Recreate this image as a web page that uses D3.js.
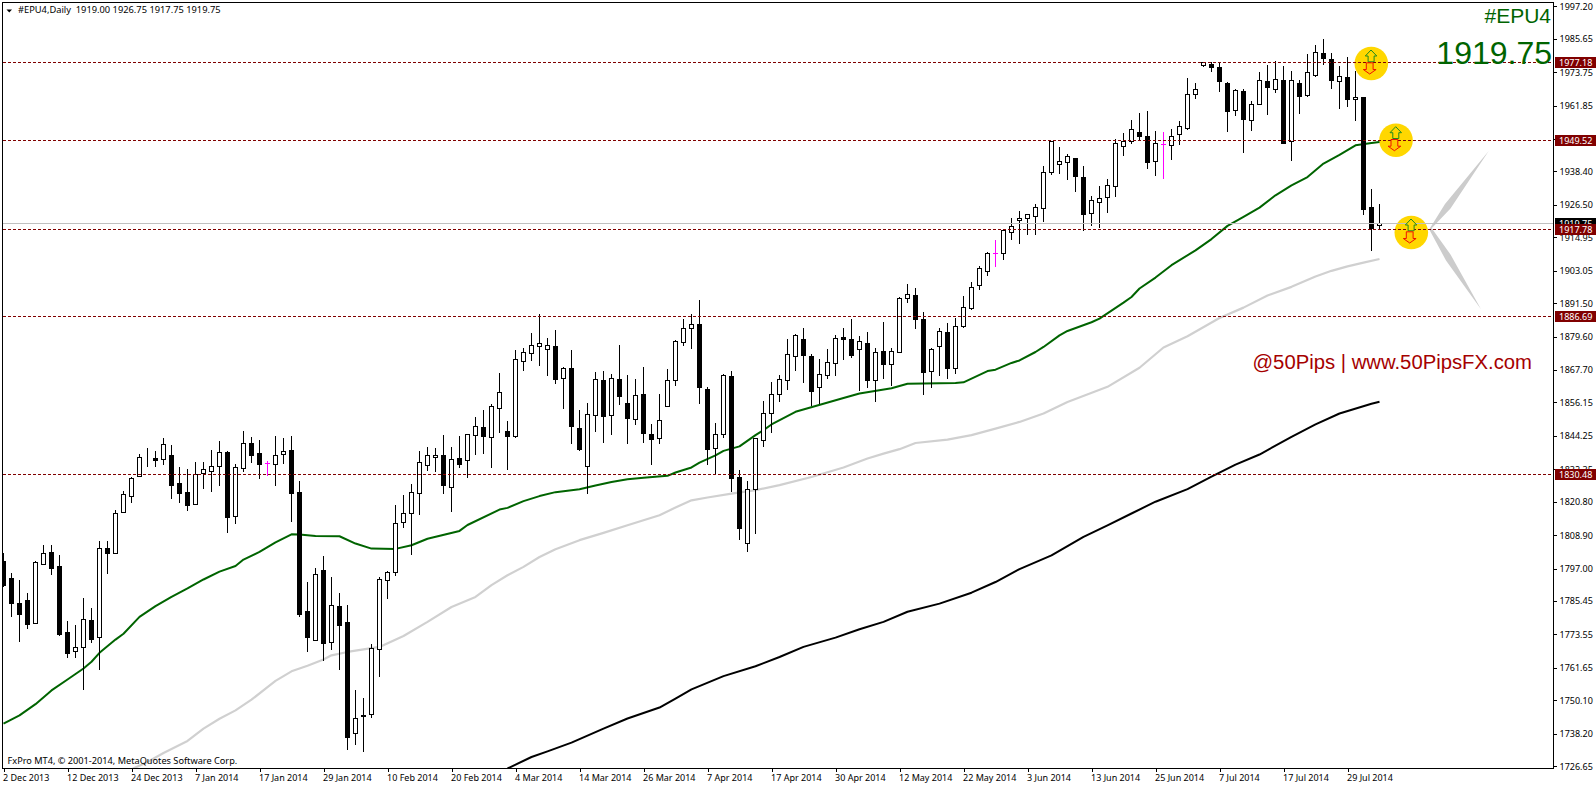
<!DOCTYPE html>
<html><head><meta charset="utf-8">
<script src="https://cdn.jsdelivr.net/npm/d3@7"></script>
<style>html,body{margin:0;padding:0;background:#fff;overflow:hidden}svg{display:block}text{font-family:"Noto Sans",sans-serif}</style>
</head><body><div id="chart"></div>
<script>
const opens=[1799.5,1793.4,1784.5,1785.6,1777.6,1798.4,1802.7,1797.7,1774.2,1767.3,
1768.8,1778.6,1772.3,1804.1,1802.5,1816.9,1822.6,1829.7,1836.4,1836.1,
1835.8,1837.2,1827.2,1824,1819.8,1830.7,1831.5,1833.3,1838.3,1815.5,
1832.6,1841.5,1837.9,1834.4,1834,1837.6,1839,1824,1781.7,1771.3,
1796.3,1770.6,1783.4,1777.8,1738.2,1744.6,1745,1768.1,1792.7,1795.5,
1813.4,1816.6,1823.7,1833.7,1836.6,1837.3,1825.9,1836.2,1835.5,1844.4,
1847.2,1843.7,1854,1845.8,1844,1870.7,1873.6,1876.1,1875,1876.1,
1864.7,1868.2,1846.9,1833.3,1851.5,1864,1851.5,1864.3,1855.8,1850.1,
1859,1844.7,1843.3,1854.7,1864,1877.5,1882.5,1883.9,1860.8,1839.7,
1844.7,1865.4,1829.4,1805.9,1825.2,1842.6,1852.2,1859,1864,1872.5,
1878.5,1872.4,1861.4,1865.7,1869.9,1879.2,1878.5,1874.9,1877.1,1863.9,
1874.2,1869.6,1873.9,1893.1,1894.2,1885.6,1867.1,1876,1881,1868.2,
1883.1,1889.5,1897.7,1902.7,1909.1,1909.1,1916.6,1920.9,1921.6,1922.3,
1925.1,1938,1940.8,1941.5,1943,1936.2,1923.4,1927.3,1929.1,1933,
1947.2,1949,1952.2,1950.8,1941.9,1947.9,1947.6,1951.5,1953.7,1965.8,
1976.1,1976.4,1975.4,1969.7,1960,1966.8,1956.5,1962.2,1970.4,1967.5,
1970.8,1949,1969.7,1965.4,1972.5,1980.4,1978.2,1970.4,1971.8,1964,
1964.7,1925.5,1919];
const highs=[1802.3,1795.2,1792.8,1788.1,1799.5,1805.3,1805.3,1801.7,1778.2,1776.8,
1786.4,1782.7,1806.7,1806.7,1817.7,1824.4,1829.4,1837.6,1839.7,1838.5,
1843.3,1840.8,1832.9,1832.2,1834.7,1834.7,1839,1842.2,1838.6,1834,
1845.9,1843.6,1842.5,1835.1,1844,1843.4,1844,1827.9,1792,1797,
1801.3,1793.8,1788.1,1783.8,1753.5,1750.7,1769.9,1793.8,1795.9,1819.4,
1823.1,1827.1,1838.7,1840.1,1839.7,1844.4,1840.1,1844,1844.7,1850.8,
1853.3,1855.4,1866.4,1849.4,1874.7,1875.4,1880.7,1887.5,1878.9,1881.8,
1868.6,1874.7,1853.1,1855.8,1866.8,1867.2,1866.1,1876.4,1865.8,1864.3,
1868.6,1848.3,1859,1867.9,1878.2,1885.7,1887.5,1892.5,1861.5,1848.7,
1866.1,1867.2,1831.9,1828,1843.3,1856.5,1863.3,1865.7,1878.6,1880.4,
1882.4,1873.2,1871.4,1874.9,1879.9,1882.4,1885.6,1879.6,1881,1875.3,
1884.5,1875.3,1893.5,1898.1,1896.7,1888.1,1875.3,1882.4,1884.2,1886,
1893.8,1898.8,1904.5,1909.5,1913.7,1917.7,1921.6,1924.1,1923,1926.6,
1940.1,1949.2,1946.9,1944.4,1943,1940.1,1929.4,1933,1935.5,1949.7,
1951.9,1956.6,1959,1959.8,1952.6,1952.2,1953.3,1956.1,1971.4,1969.7,
1977.2,1977,1976.8,1970,1967.5,1967.5,1963.3,1973.6,1976.1,1977.5,
1975.9,1974,1970.8,1980,1983.2,1985.3,1980.4,1975.7,1978.9,1974,
1964.7,1931.9,1926.75];
const lows=[1790.5,1779.8,1771.2,1775.5,1777.4,1798.4,1794.9,1773.2,1765.5,1765.5,
1754.1,1770.5,1761.2,1795.1,1802.2,1816.9,1820.4,1829.7,1833.2,1833.5,
1834.2,1821.8,1820.4,1817.5,1819.8,1825.5,1824.3,1826.4,1809.7,1812.9,
1831.5,1834.7,1829.2,1830.1,1826.4,1834.5,1813.9,1780.1,1767.3,1771.3,
1764.2,1768,1761.2,1732.4,1734.2,1732,1744.1,1758.4,1786.2,1794.5,
1811.5,1802.1,1816.1,1831.8,1831.4,1823.7,1817.2,1833,1829.4,1837.5,
1837.9,1833,1845.3,1832.2,1843.7,1867.4,1871,1869.3,1865.8,1862.8,
1853.9,1841.4,1838.9,1823.7,1845.7,1841.8,1844.6,1855.3,1841.4,1848.2,
1841.8,1833.9,1841.5,1854.7,1862.1,1876.4,1875.4,1855.7,1834.2,1830.5,
1843.7,1824.4,1807.2,1803.1,1809.5,1840.5,1845.4,1856.4,1860.8,1867.4,
1863.4,1855.1,1855.7,1864.5,1865.9,1871.4,1872,1860.5,1861.3,1856.3,
1864.5,1862.1,1873.9,1891.7,1882.3,1858.8,1861.3,1865.6,1864.5,1866.4,
1882.8,1889.2,1896.5,1901.5,1904.4,1906.9,1914.1,1912.9,1915.8,1915.8,
1920.4,1937.3,1937.7,1935.4,1931.1,1917.3,1919,1918.6,1923.6,1929.3,
1943.9,1948.3,1949.5,1939.3,1936.8,1935.7,1942.6,1947.9,1953.3,1964.3,
1975.7,1974,1966.7,1952.5,1958.2,1945.1,1952.8,1962.2,1958.5,1966.5,
1948.3,1942.2,1958.9,1964.9,1972.2,1976.4,1967.8,1960.7,1961.4,1956.5,
1922.9,1910.2,1917.75];
const closes=[1791.1,1784.4,1780.8,1776.9,1799.1,1802.3,1796.9,1773.6,1766.9,1768.8,
1778.8,1771.6,1804.1,1802.2,1816.5,1823.3,1829,1836.5,1836.5,1835.3,
1841.1,1826.4,1823.7,1819.6,1830.4,1832.2,1833.3,1838.3,1815,1832.9,
1841.5,1837.1,1834,1834.4,1837.2,1838.6,1823.6,1780.5,1772.3,1794.9,
1770.2,1783.8,1776.6,1736.7,1743.6,1744.3,1768.5,1793,1795.5,1813,
1816.6,1824.1,1834.8,1837.3,1837.3,1826.6,1835.8,1833.9,1844.7,1847.6,
1843.9,1854.7,1859.7,1843.9,1871.4,1873.9,1876.4,1877.1,1876.4,1864.2,
1868.2,1847.5,1839.3,1851.9,1864.3,1851.2,1864.7,1858.2,1850.3,1858.6,
1845,1843,1849.7,1864,1877.9,1882.5,1883.9,1861.5,1839.4,1844.7,
1865.8,1829.1,1811.3,1825.2,1843.3,1852.2,1859,1864.3,1873.2,1880,
1873,1860,1866,1870.3,1878.9,1878.7,1873,1877.8,1863.9,1873.9,
1869.8,1874.2,1893.1,1894.5,1885.6,1866.7,1874.9,1881.3,1868.2,1883.1,
1889.9,1897,1903.8,1909.1,1909.1,1917.3,1918.7,1921.6,1923,1925.5,
1938,1949,1941.9,1943.7,1936.5,1922.9,1928,1928.7,1933.3,1948.3,
1949,1953.3,1951,1941.5,1948.3,1947.9,1950.8,1954.4,1965.8,1967.5,
1977.2,1975.4,1970.4,1959.7,1967.2,1956.9,1962.2,1970.8,1968.1,1971.1,
1948.3,1970.8,1964.9,1973.6,1980.7,1978.7,1970.8,1972.2,1964,1964.7,
1924.8,1917.9,1919.75];
const magentaBars=[33,124,145];

const greenIdx=[0,2,4,6,8,10,11,12,14,15,17,19,21,23,25,27,29,30,32,34,36,37,39,42,44,46,49,51,53,57,58,62,63,65,67,69,72,74,76,78,80,83,84,86,87,89,90,92,94,95,96,99,105,107,111,113,119,120,123,124,126,127,129,130,132,133,136,137,140,141,142,144,146,149,151,153,155,157,159,161,163,165,167,169,171,172];
const greenMA=[1741.8,1744.7,1748.7,1753.6,1757.5,1761.4,1763.8,1767,1771.7,1773.8,1779.8,1783.6,1786.9,1789.9,1793.1,1795.9,1797.9,1800.2,1802.9,1806.3,1809.2,1809.1,1808.6,1808.5,1805.9,1804.1,1804,1805.3,1807.6,1810.4,1812.5,1818,1818.6,1821,1822.8,1824.2,1825.2,1826.6,1827.8,1828.8,1829.3,1830,1831.2,1833,1834.7,1837.3,1838.9,1840.5,1844.5,1846.3,1848.3,1852.8,1857.7,1859.3,1861.2,1862.8,1863.1,1863.3,1867.3,1867.8,1870.2,1871.1,1874.1,1875.9,1880,1881.6,1884.7,1886,1891.7,1893.7,1896.7,1900.6,1905,1910.3,1914.3,1919,1922.2,1925.5,1929.9,1933.4,1936.4,1941.2,1944.3,1947.7,1948.5,1948.9];
const grayIdx=[16,18,20,23,25,27,29,31,33,34,36,38,40,41,43,45,47,50,53,56,59,61,63,65,67,69,72,75,78,82,84,86,88,91,94,97,101,105,108,110,112,114,118,121,124,127,130,133,138,142,145,148,152,155,158,161,164,166,168,170,172];
const grayMA=[1725.5,1728.1,1731.3,1735.6,1740,1743.5,1746.5,1750.3,1754.8,1757,1760.4,1762.4,1764.6,1766.1,1767.3,1768.2,1769.1,1773,1778,1783.3,1786.9,1791.1,1794.6,1797.6,1801.1,1803.9,1807.1,1809.7,1812.4,1816,1818.7,1821.3,1822.3,1823.7,1824.9,1826.7,1829.6,1833,1836.2,1837.9,1839.5,1841.7,1842.9,1844.5,1846.8,1849.2,1852.2,1856.3,1861.7,1868.5,1875.7,1879.7,1886.2,1889.9,1894.2,1897.3,1901,1903,1904.6,1905.9,1907.2];
const blackIdx=[63,66,68,71,75,78,82,84,86,90,94,97,100,104,107,110,113,117,121,124,127,131,135,138,141,144,148,151,154,157,161,164,167,171,172];
const blackMA=[1725.8,1729.9,1731.9,1735,1740,1743.6,1747.5,1750.7,1754,1758.7,1762.2,1765.5,1769.1,1772.4,1775.4,1778,1781.6,1784.5,1788.4,1792.2,1796.8,1801.7,1808.3,1812.4,1816.6,1820.8,1825.3,1829.7,1834,1837.6,1843.9,1848.3,1852.2,1855.7,1856.4];

const priceTicks=[1997.20,1985.65,1973.75,1961.85,1949.95,1938.40,1926.50,1914.95,1903.05,1891.50,1879.60,1867.70,1856.15,1844.25,1832.35,1820.80,1808.90,1797.00,1785.45,1773.55,1761.65,1750.10,1738.20,1726.65];
const dateLabels=["2 Dec 2013","12 Dec 2013","24 Dec 2013","7 Jan 2014","17 Jan 2014","29 Jan 2014","10 Feb 2014","20 Feb 2014","4 Mar 2014","14 Mar 2014","26 Mar 2014","7 Apr 2014","17 Apr 2014","30 Apr 2014","12 May 2014","22 May 2014","3 Jun 2014","13 Jun 2014","25 Jun 2014","7 Jul 2014","17 Jul 2014","29 Jul 2014"];
const dateBarStep=8;
const levels=[1977.18,1949.52,1917.78,1886.69,1830.48];
const lastPrice=1919.75;

const W=1596,H=786,L=2.5,T=2.5,R=1553.5,B=768.5;
const svg=d3.select("#chart").append("svg").attr("width",W).attr("height",H);
const x=d3.scaleLinear().domain([0,172]).range([3.5,1379.5]);
const y=d3.scaleLinear().domain([1999.36,1725.91]).range([0.2,768.2]);
const py=v=>Math.floor(y(v))+0.5;

svg.append("defs").append("clipPath").attr("id","plot").append("rect").attr("x",L).attr("y",T).attr("width",R-L).attr("height",B-T);
const plot=svg.append("g").attr("clip-path","url(#plot)");

/* decorative spindle */
plot.append("path").attr("fill","#cccccc")
 .attr("d","M1429.3,229.3 L1445,204 L1488.7,151 L1450.5,208.5 L1431.7,228.3 Z M1429.3,229.5 L1446,260.5 L1481,309.3 L1450.5,254.5 L1431.7,228.3 Z");

/* signal discs behind level lines */
const discs=[[1371.3,63.5],[1396,140.2],[1411.3,232.5]];
plot.selectAll("circle.sig").data(discs).join("circle").attr("class","sig")
 .attr("cx",d=>d[0]).attr("cy",d=>d[1]).attr("r",16.8).attr("fill","#ffd700");

/* moving averages */
const maLine=d3.line().x(d=>x(d[0])).y(d=>y(d[1]));
[[grayIdx,grayMA,"#d0d0d0",2.2],[blackIdx,blackMA,"#000000",2],[greenIdx,greenMA,"#006400",2]].forEach(([ix,vals,c,w])=>{
 plot.append("path").attr("fill","none").attr("stroke",c).attr("stroke-width",w).attr("stroke-linejoin","round")
  .attr("d",maLine(ix.map((k,j)=>[k,vals[j]])));
});

/* candles */
const bars=opens.map((o,i)=>({i,o,h:highs[i],l:lows[i],c:closes[i],m:magentaBars.includes(i)}));
const g=plot.append("g").attr("shape-rendering","crispEdges");
g.selectAll("line.w").data(bars).join("line").attr("class","w")
 .attr("x1",d=>x(d.i)).attr("x2",d=>x(d.i)).attr("y1",d=>py(d.h)-0.5).attr("y2",d=>py(d.l)+0.5)
 .attr("stroke",d=>d.m?"#ff00ff":"#000");
g.selectAll("rect.b").data(bars.filter(d=>!d.m)).join("rect").attr("class","b")
 .attr("x",d=>x(d.i)-2).attr("width",4)
 .attr("y",d=>py(Math.max(d.o,d.c))).attr("height",d=>Math.max(0,py(Math.min(d.o,d.c))-py(Math.max(d.o,d.c))))
 .attr("fill",d=>d.c>=d.o?"#fff":"#000").attr("stroke","#000");
g.selectAll("line.m").data(bars.filter(d=>d.m)).join("line").attr("class","m")
 .attr("x1",d=>x(d.i)-2.5).attr("x2",d=>x(d.i)+2.5).attr("y1",d=>py(d.c)).attr("y2",d=>py(d.c)).attr("stroke","#ff00ff");

/* level lines */
const lv=plot.append("g").attr("shape-rendering","crispEdges");
lv.append("line").attr("x1",L).attr("x2",R).attr("y1",py(lastPrice)).attr("y2",py(lastPrice)).attr("stroke","#c0c0c0");
lv.selectAll("line.lvl").data(levels).join("line").attr("class","lvl")
 .attr("x1",L).attr("x2",R).attr("y1",d=>py(d)).attr("y2",d=>py(d)).attr("stroke","#800000").attr("stroke-dasharray","3,2");

/* signal arrows */
discs.forEach(([cx,cy])=>{
 const a=plot.append("g").attr("transform",`translate(${cx},${cy})`);
 a.append("path").attr("d","M-0.3,-13.5 L5.5,-7.5 L2.8,-7.5 L2.8,-1.7 L-3.2,-1.7 L-3.2,-7.5 L-6,-7.5 Z").attr("fill","#ffd700").attr("stroke","#1f8a1f").attr("stroke-width",1);
 a.append("path").attr("d","M-5,-0.7 L1.8,-0.7 L1.8,6 L4.8,6 L-1.6,10.5 L-8,6 L-5,6 Z").attr("fill","#ffc800").attr("stroke","#f01000").attr("stroke-width",1);
});

/* frame */
svg.append("path").attr("fill","none").attr("stroke","#000").attr("shape-rendering","crispEdges")
 .attr("d",`M${L},${B}V${T}H${R}V${B}H${L}`);

/* price axis */
const yAxis=d3.axisRight(y).tickValues(priceTicks).tickSize(3).tickPadding(3).tickFormat(d3.format(".2f"));
const ya=svg.append("g").attr("transform",`translate(${R},0)`).call(yAxis);
ya.select(".domain").remove();
ya.selectAll("line").attr("stroke","#000").attr("shape-rendering","crispEdges");
ya.selectAll("text").attr("font-size",9).attr("fill","#000").attr("font-family",'"Noto Sans",sans-serif').attr("x",6);

/* date axis */
const dateIdx=dateLabels.map((_,k)=>k*dateBarStep);
const xAxis=d3.axisBottom(x).tickValues(dateIdx).tickSize(3).tickFormat((d,k)=>dateLabels[k]);
const xa=svg.append("g").attr("transform",`translate(0,${B})`).call(xAxis);
xa.select(".domain").remove();
xa.selectAll("line").attr("stroke","#000").attr("shape-rendering","crispEdges");
xa.selectAll("text").attr("font-size",9).attr("fill","#000").attr("font-family",'"Noto Sans",sans-serif')
 .attr("text-anchor","start").attr("dy",0).attr("y",12.5).attr("dx",-1);

/* price tags */
function tag(v,fill){
 const cy=y(v)-0.5;
 svg.append("rect").attr("x",1555).attr("y",Math.round(cy-5)).attr("width",41).attr("height",10.5).attr("fill",fill).attr("shape-rendering","crispEdges");
 svg.append("text").attr("x",1559).attr("y",Math.round(cy-5)+8.5).attr("font-size",9).attr("fill","#fff").text(v.toFixed(2));
}
tag(lastPrice,"#000000");
levels.forEach(v=>tag(v,"#800000"));

/* texts */
svg.append("path").attr("d","M6.5,9.5 H12 L9.25,12.5 Z").attr("fill","#000");
svg.append("text").attr("x",18).attr("y",13).attr("font-size",9.3).attr("fill","#000").attr("xml:space","preserve")
 .text("#EPU4,Daily  1919.00 1926.75 1917.75 1919.75");
plot.append("text").attr("x",7.5).attr("y",764).attr("font-size",9.2).attr("fill","#000").text("FxPro MT4, © 2001-2014, MetaQuotes Software Corp.");
const big=svg.append("g").attr("fill","#006400").attr("text-anchor","end");
big.append("text").attr("x",1551).attr("y",23).attr("font-size",21).style("font-family",'"Liberation Sans"').text("#EPU4");
big.append("text").attr("x",1552).attr("y",64).attr("font-size",32).style("font-family",'"Liberation Sans"').text(lastPrice.toFixed(2));
svg.append("text").attr("x",1532).attr("y",369).attr("text-anchor","end").attr("font-size",20.3).attr("fill","#a50000").style("font-family",'"Liberation Sans"').text("@50Pips | www.50PipsFX.com");
</script></body></html>
